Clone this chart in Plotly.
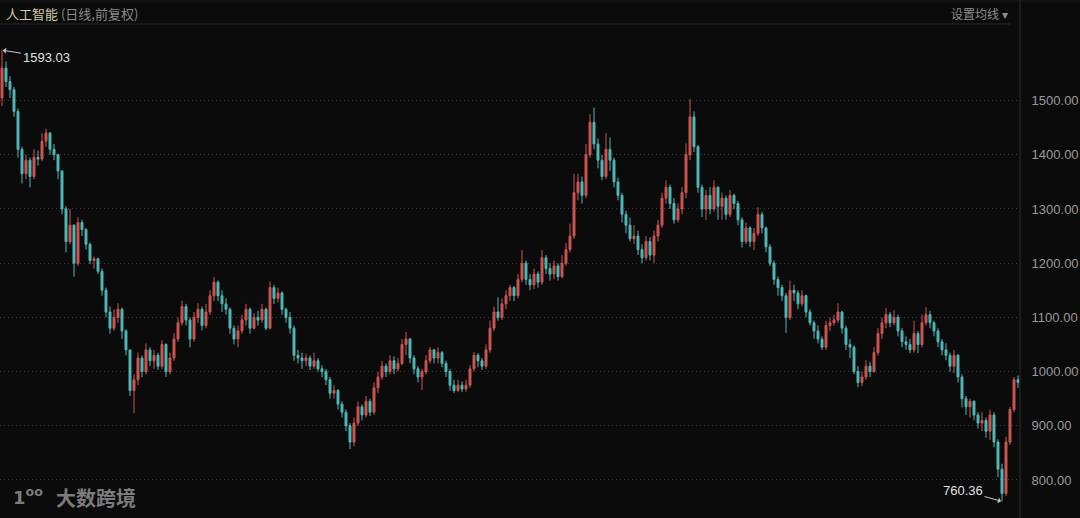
import plotly.graph_objects as go

# ---- data ----
first_open = 1505
close = [1560, 1535, 1520, 1480, 1410, 1365, 1390, 1360, 1395, 1392,
         1425, 1440, 1410, 1400, 1370, 1300, 1240, 1270, 1200, 1275,
         1262, 1235, 1205, 1208, 1185, 1150, 1110, 1080, 1100, 1115,
         1075, 1040, 965, 985, 1025, 1000, 1040, 1020, 1030, 1010,
         1050, 1000, 1025, 1060, 1090, 1120, 1095, 1060, 1100, 1115,
         1085, 1110, 1140, 1165, 1140, 1125, 1115, 1080, 1060, 1075,
         1095, 1115, 1080, 1100, 1095, 1115, 1080, 1155, 1135, 1145,
         1115, 1100, 1080, 1030, 1025, 1020, 1025, 1010, 1020, 1005,
         1000, 985, 960, 965, 940, 925, 900, 870, 905, 935,
         920, 945, 925, 970, 990, 1010, 1000, 1020, 1005, 1015,
         1050, 1060, 1025, 1005, 990, 1000, 1020, 1040, 1025, 1035,
         1015, 1000, 975, 965, 975, 968, 975, 1005, 1030, 1020,
         1010, 1040, 1080, 1110, 1100, 1125, 1140, 1155, 1140, 1170,
         1200, 1170, 1160, 1180, 1165, 1210, 1190, 1180, 1195, 1175,
         1200, 1225, 1250, 1330, 1350, 1325, 1400, 1460, 1420, 1390,
         1360, 1410, 1390, 1350, 1325, 1290, 1270, 1245, 1250, 1225,
         1210, 1240, 1215, 1250, 1270, 1320, 1340, 1310, 1280, 1300,
         1330, 1400, 1470, 1415, 1340, 1300, 1325, 1300, 1340, 1305,
         1320, 1290, 1325, 1310, 1280, 1240, 1265, 1240, 1255, 1290,
         1265, 1230, 1200, 1170, 1155, 1140, 1100, 1150, 1145, 1125,
         1140, 1110, 1090, 1075, 1060, 1045, 1085, 1090, 1095, 1110,
         1080, 1050, 1045, 1000, 980, 990, 1010, 1000, 1035, 1070,
         1090, 1105, 1090, 1100, 1075, 1055, 1050, 1040, 1070, 1050,
         1090, 1105, 1090, 1075, 1055, 1040, 1030, 1010, 1030, 990,
         950, 935, 945, 920, 905, 910, 890, 920, 870, 820,
         775, 870, 930, 985, 980]
high = [1593.03, 1572, 1545, 1525, 1485, 1415, 1400, 1395, 1410, 1408,
        1440, 1448, 1442, 1420, 1402, 1372, 1305, 1300, 1272, 1285,
        1280, 1265, 1238, 1212, 1210, 1190, 1155, 1120, 1115, 1126,
        1118, 1078, 1040, 995, 1035, 1030, 1052, 1045, 1040, 1035,
        1058, 1052, 1035, 1071, 1100, 1131, 1125, 1100, 1110, 1126,
        1120, 1125, 1150, 1175, 1168, 1150, 1135, 1118, 1085, 1085,
        1105, 1125, 1118, 1108, 1112, 1125, 1118, 1166, 1160, 1155,
        1148, 1118, 1110, 1085, 1040, 1035, 1033, 1030, 1035, 1025,
        1012, 1005, 990, 975, 968, 945, 930, 905, 915, 945,
        940, 955, 950, 980, 1000, 1020, 1015, 1030, 1028, 1025,
        1060, 1073, 1062, 1030, 1010, 1005, 1030, 1045, 1042, 1045,
        1038, 1020, 1005, 985, 985, 982, 985, 1012, 1036, 1034,
        1025, 1050, 1094, 1120, 1137, 1135, 1150, 1160, 1158, 1180,
        1224, 1205, 1180, 1190, 1185, 1224, 1215, 1200, 1205, 1200,
        1215, 1237, 1273, 1365, 1365, 1360, 1420, 1475, 1487, 1430,
        1400, 1440, 1432, 1395, 1358, 1330, 1297, 1284, 1270, 1260,
        1235, 1250, 1248, 1260, 1280, 1330, 1353, 1345, 1320, 1310,
        1340, 1421, 1503, 1480, 1418, 1345, 1335, 1340, 1353, 1342,
        1330, 1325, 1335, 1328, 1315, 1285, 1275, 1268, 1265, 1303,
        1295, 1268, 1235, 1205, 1175, 1160, 1145, 1168, 1160, 1150,
        1150, 1142, 1115, 1094, 1085, 1065, 1094, 1100, 1105, 1126,
        1112, 1085, 1060, 1048, 1010, 1000, 1021, 1018, 1045, 1080,
        1100, 1117, 1110, 1113, 1105, 1080, 1065, 1060, 1094, 1075,
        1105, 1119, 1112, 1094, 1080, 1060, 1052, 1035, 1040, 1032,
        995, 955, 950, 947, 925, 925, 915, 930, 925, 875,
        830, 880, 935, 990, 993]
low = [1490, 1525, 1505, 1470, 1395, 1347, 1355, 1340, 1355, 1380,
       1388, 1415, 1400, 1390, 1355, 1290, 1220, 1235, 1175, 1195,
       1250, 1225, 1198, 1190, 1180, 1140, 1100, 1070, 1075, 1090,
       1060, 1030, 955, 923, 975, 990, 995, 1010, 1005, 1003,
       1005, 990, 995, 1020, 1055, 1085, 1085, 1045, 1055, 1090,
       1076, 1080, 1105, 1130, 1130, 1110, 1105, 1070, 1050, 1045,
       1070, 1085, 1070, 1078, 1085, 1090, 1076, 1078, 1125, 1128,
       1105, 1090, 1070, 1020, 1015, 1005, 1010, 1003, 1005, 1000,
       990, 975, 950, 950, 930, 915, 890, 857, 862, 900,
       910, 915, 918, 920, 960, 985, 990, 995, 995, 1000,
       1012, 1030, 1015, 995, 980, 966, 995, 1015, 1015, 1015,
       1008, 990, 965, 960, 962, 962, 963, 970, 1000, 1008,
       1003, 1005, 1035, 1075, 1094, 1095, 1115, 1130, 1130, 1135,
       1165, 1160, 1150, 1152, 1155, 1160, 1180, 1168, 1170, 1168,
       1172, 1195, 1220, 1245, 1316, 1310, 1320, 1395, 1410, 1375,
       1353, 1355, 1370, 1340, 1316, 1275, 1255, 1240, 1235, 1215,
       1200, 1205, 1205, 1200, 1240, 1265, 1310, 1300, 1273, 1275,
       1290, 1320, 1390, 1405, 1330, 1285, 1280, 1290, 1295, 1280,
       1280, 1280, 1285, 1300, 1270, 1229, 1235, 1230, 1224, 1250,
       1255, 1220, 1195, 1160, 1140, 1130, 1071, 1095, 1130, 1115,
       1120, 1100, 1085, 1060, 1052, 1040, 1040, 1075, 1085, 1090,
       1070, 1040, 1025, 995, 971, 973, 985, 990, 998, 1030,
       1060, 1080, 1082, 1085, 1065, 1045, 1040, 1034, 1035, 1034,
       1045, 1085, 1080, 1065, 1045, 1030, 1021, 1000, 997, 980,
       934, 920, 915, 910, 895, 890, 878, 874, 860, 805,
       760.36, 770, 865, 925, 970]
open_ = [first_open] + close[:-1]
days = list(range(len(close)))

y_ticks = [800, 900, 1000, 1100, 1200, 1300, 1400, 1500]
y_tick_text = ["%.2f" % v for v in y_ticks]
title_main = "人工智能"
title_sub = "(日线,前复权)"
ma_button = "设置均线 ▾"
max_label = "1593.03"
min_label = "760.36"
max_idx = high.index(max(high))
min_idx = low.index(min(low))

# ---- geometry ----
W, H = 1080, 518
ML, MR, MT, MB = 0, 60, 24, 8
PW = W - ML - MR
PH = H - MT - MB
Y_RANGE = [744.6, 1641.3]

def px_x(p):
    return p / PW

def px_y(p):
    return (H - MB - p) / PH

UP = "#cf5650"
DOWN = "#4fb8b8"
CJK = "Noto Sans CJK SC, Noto Sans, sans-serif"

fig = go.Figure(go.Candlestick(
    x=days, open=open_, high=high, low=low, close=close,
    increasing=dict(line=dict(color=UP, width=1), fillcolor=UP),
    decreasing=dict(line=dict(color=DOWN, width=1), fillcolor=DOWN),
    whiskerwidth=0, showlegend=False, hoverinfo="skip",
))

fig.update_layout(
    width=W, height=H,
    margin=dict(l=ML, r=MR, t=MT, b=MB, pad=0),
    paper_bgcolor="#0b0b0b", plot_bgcolor="#0b0b0b",
    showlegend=False,
    xaxis=dict(range=[-0.5, len(close) - 0.5], visible=False,
               showgrid=False, zeroline=False,
               rangeslider=dict(visible=False)),
    yaxis=dict(side="right", range=Y_RANGE, tickvals=y_ticks, ticktext=y_tick_text,
               showgrid=True, gridcolor="#3c3c3c", griddash="1px,3px", gridwidth=1,
               zeroline=False, showline=False,
               ticks="outside", ticklen=8, tickcolor="rgba(0,0,0,0)",
               tickfont=dict(family="Liberation Sans, Arial, sans-serif",
                             size=13, color="#9a9a9a")),
)

# frame lines
fig.add_shape(type="line", xref="paper", yref="paper",
              x0=1.0, x1=1.0, y0=px_y(H + 2), y1=px_y(-2),
              line=dict(color="#2e2e2e", width=1))
fig.add_shape(type="line", xref="paper", yref="paper",
              x0=0, x1=px_x(1010), y0=1.0, y1=1.0,
              line=dict(color="#2a2a2a", width=1))
fig.add_shape(type="line", xref="paper", yref="paper",
              x0=0, x1=px_x(1080), y0=px_y(1), y1=px_y(1),
              line=dict(color="#1e1e1e", width=1))

annotations = [
    dict(xref="paper", yref="paper", x=px_x(4), y=px_y(13),
         xanchor="left", yanchor="middle", showarrow=False,
         text=f"<span style='color:#d3cca3'>{title_main}</span>"
              f"<span style='color:#8a8a8a'> {title_sub}</span>",
         font=dict(family=CJK, size=13)),
    dict(xref="paper", yref="paper", x=px_x(1010), y=px_y(13),
         xanchor="right", yanchor="middle", showarrow=False,
         text=ma_button, font=dict(family=CJK, size=12, color="#8f8f8f")),
    dict(x=max_idx, y=max(high), xref="x", yref="y", text=max_label,
         showarrow=True, ax=44, ay=7, arrowhead=1, arrowsize=1, arrowwidth=1,
         arrowcolor="#c8c8c8", standoff=1,
         font=dict(family="Liberation Sans, Arial, sans-serif", size=13, color="#e0e0e0")),
    dict(x=min_idx, y=min(low), xref="x", yref="y", text=min_label,
         showarrow=True, ax=-39, ay=-11, arrowhead=1, arrowsize=1, arrowwidth=1,
         arrowcolor="#c8c8c8", standoff=1,
         font=dict(family="Liberation Sans, Arial, sans-serif", size=13, color="#e0e0e0")),
    dict(xref="paper", yref="paper", x=px_x(96), y=px_y(497),
         xanchor="center", yanchor="middle", showarrow=False,
         text="<b>大数跨境</b>", font=dict(family=CJK, size=20, color="#7c7c7c")),
    dict(xref="paper", yref="paper", x=px_x(28), y=px_y(496),
         xanchor="center", yanchor="middle", showarrow=False,
         text="<b>1<sup>oo</sup></b>", font=dict(family="DejaVu Sans, sans-serif", size=18, color="#7c7c7c")),
]
fig.update_layout(annotations=annotations)

fig.write_html("out.html", config={"displayModeBar": False},
               post_script="document.body.style.margin='0';document.body.style.overflow='hidden';")
